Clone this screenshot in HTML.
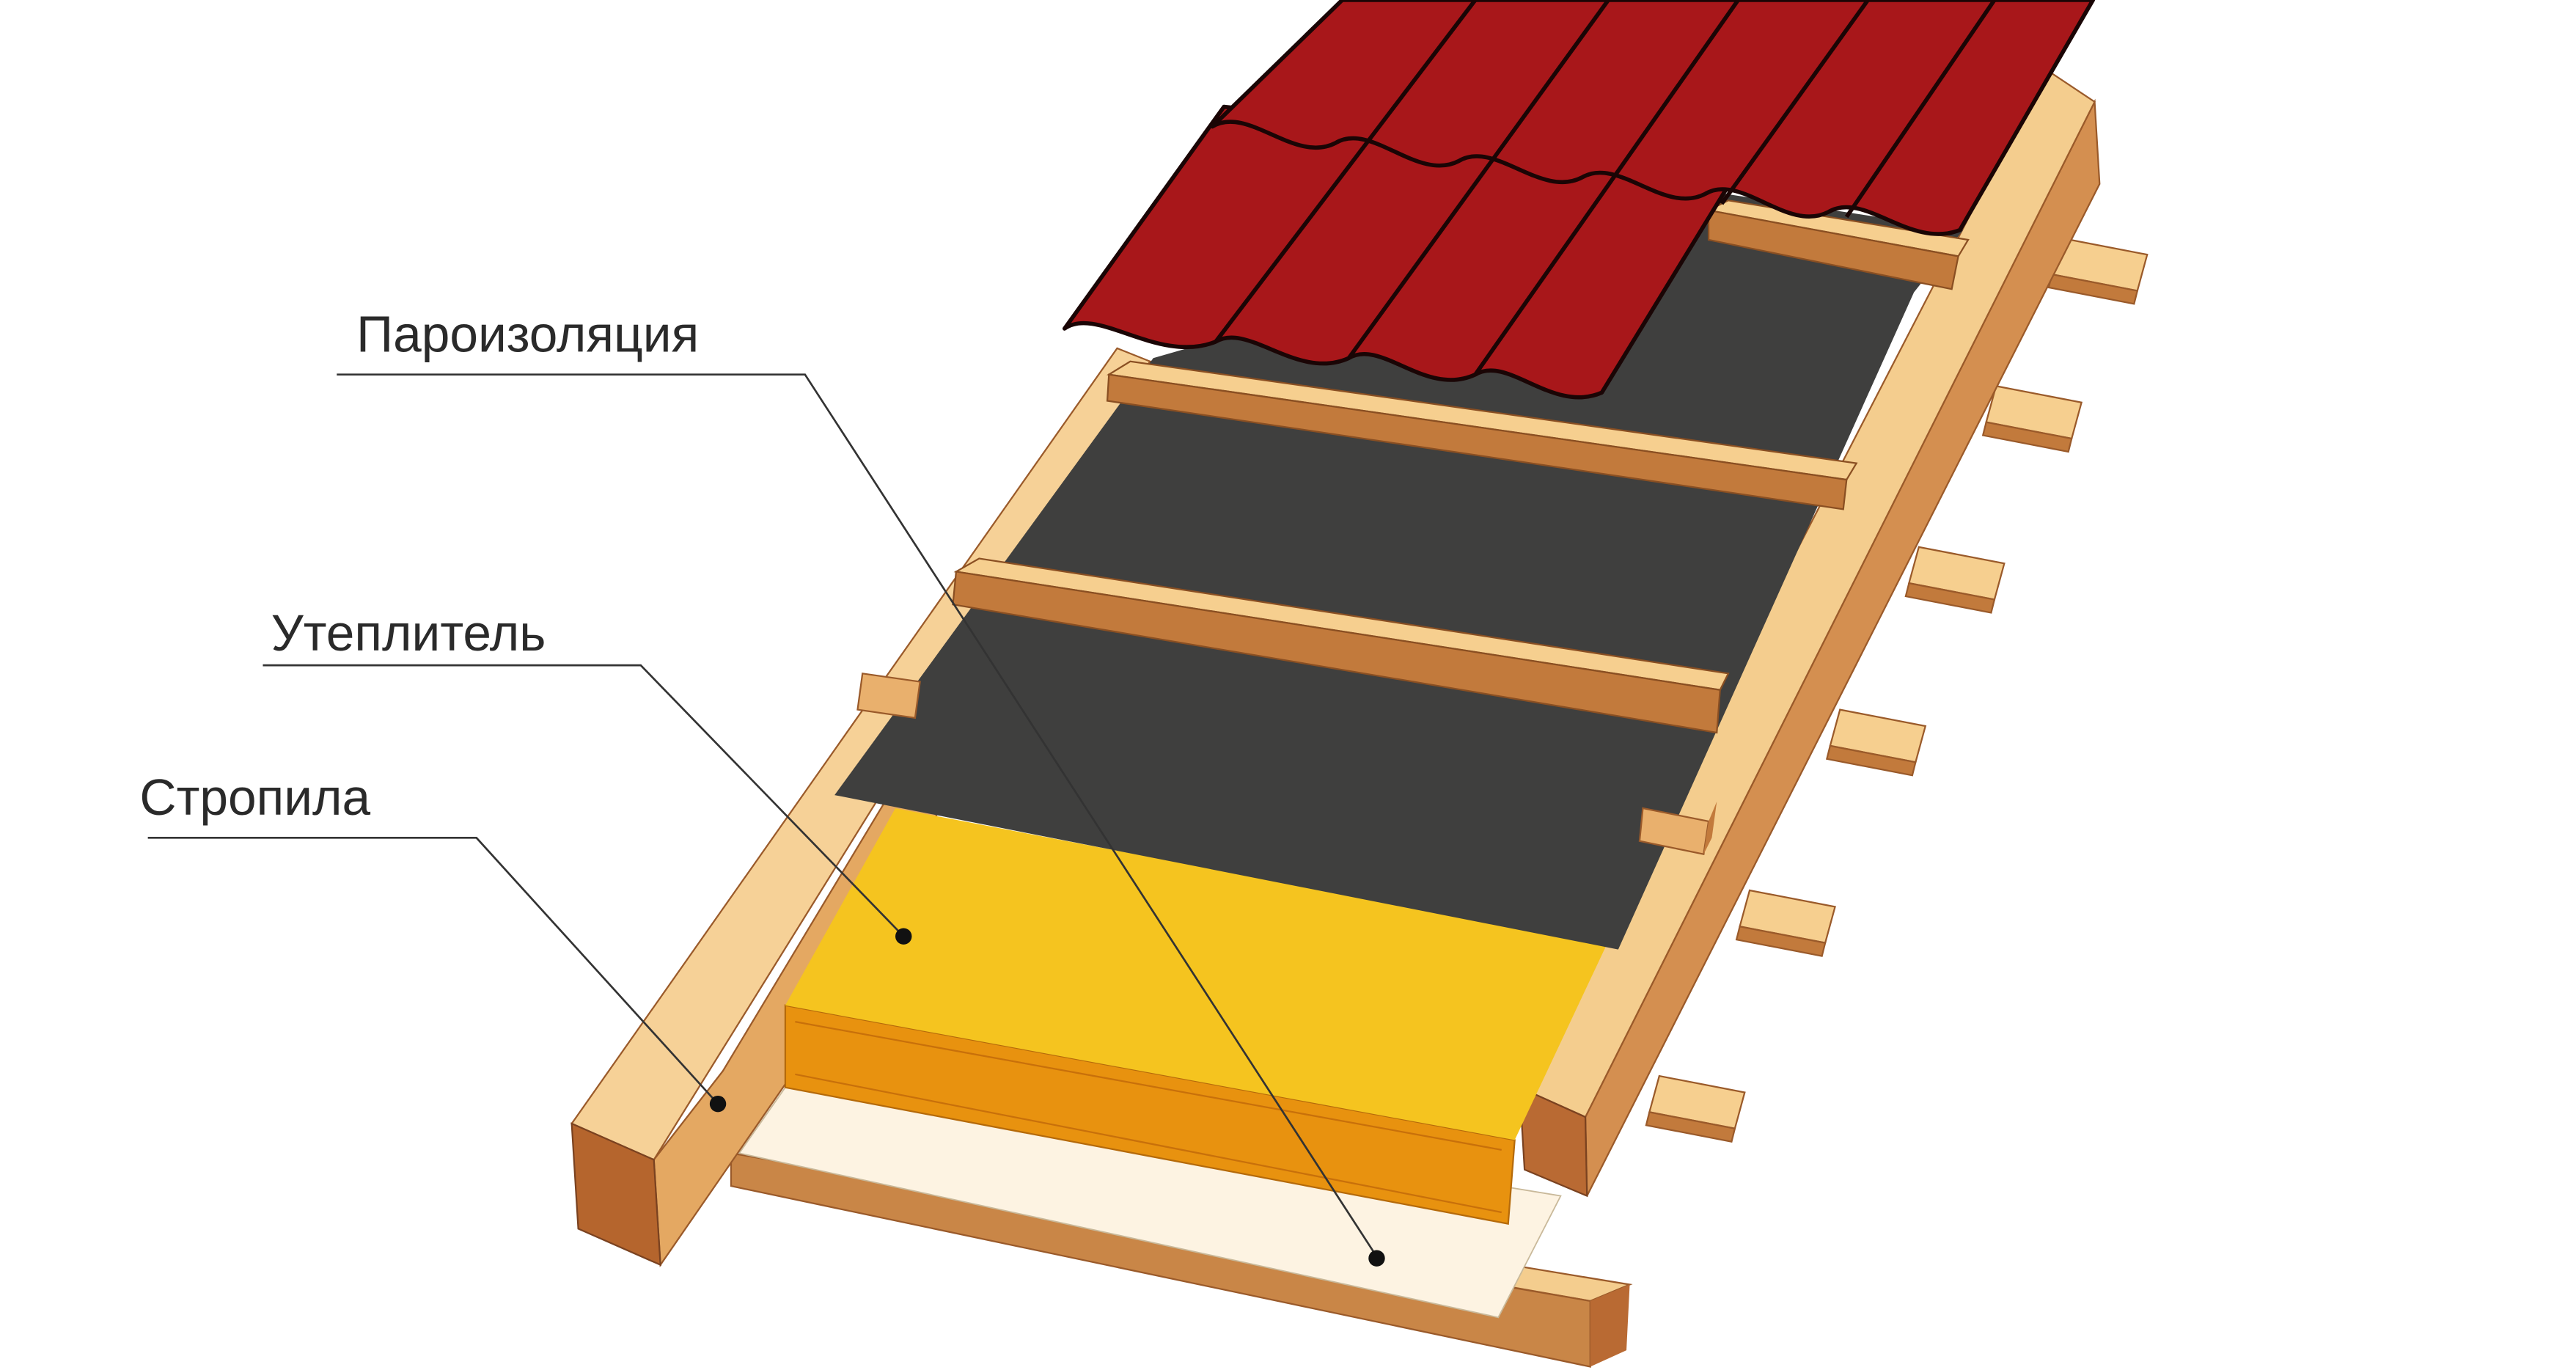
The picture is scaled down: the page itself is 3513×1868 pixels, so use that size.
<!DOCTYPE html>
<html><head><meta charset="utf-8"><style>html,body{margin:0;padding:0;background:#fff}svg{display:block}</style></head>
<body>
<svg width="3513" height="1868" viewBox="0 0 1568 834" preserveAspectRatio="none" xmlns="http://www.w3.org/2000/svg">
<defs>
<g id="pb" stroke="#9a5a2a" stroke-width="1"><polygon points="0,0 52,10 46,32 -6,22" fill="#f6cf8f"/><polygon points="-6,22 46,32 44,40 -8,30" fill="#c27a3c"/></g>
</defs>
<rect width="1568" height="834" fill="#fff"/>
<use href="#pb" x="1255" y="145"/><use href="#pb" x="1215" y="235"/><use href="#pb" x="1168" y="333"/><use href="#pb" x="1120" y="432"/><use href="#pb" x="1065" y="542"/><use href="#pb" x="1010" y="655"/>
<!-- right rafter -->
<polygon points="965,680 1275,62 1278,112 966,728" fill="#d48f50" stroke="#9a5a2a"/>
<polygon points="925,662 965,680 1275,62 1245,42" fill="#f4cd8e" stroke="#9a5a2a"/>
<polygon points="925,662 965,680 966,728 928,712" fill="#b96a33" stroke="#7a4220"/>
<!-- bottom board -->
<polygon points="445,700 470,696 992,782 968,792" fill="#f4cd8e" stroke="#9a5a2a"/>
<polygon points="445,702 968,792 968,832 445,722" fill="#c98647" stroke="#9a5a2a"/>
<polygon points="968,792 992,782 990,822 968,832" fill="#b96a33"/>
<!-- left rafter -->
<polygon points="398,706 440,652 700,220 722,226 478,660 402,770" fill="#e4a862" stroke="#9a5a2a"/>
<polygon points="348,684 398,706 700,220 680,212" fill="#f6d197" stroke="#9a5a2a"/>
<polygon points="348,684 398,706 402,770 352,748" fill="#b5652d" stroke="#7a4220"/>
<!-- white sheet -->
<polygon points="450,702 485,652 950,728 912,802" fill="#fdf3e2" stroke="#c9b99a" stroke-width="0.8"/>
<!-- insulation -->
<polygon points="478,612 922,694 918,745 478,662" fill="#e8920f" stroke="#b56a0a"/>
<path d="M484,622 L914,700 M484,654 L914,738" stroke="#c8700a" stroke-width="1"/>
<polygon points="478,612 545,492 978,575 922,694" fill="#f5c41f"/>
<!-- membrane -->
<polygon points="508,484 985,578 1165,178 1195,140 1050,118 702,218" fill="#3f3f3e"/>
<!-- stubs -->
<polygon points="525,410 560,415 557,437 522,432" fill="#e9b06d" stroke="#9a5a2a"/>
<polygon points="1000,492 1040,500 1037,520 998,512" fill="#e9b06d" stroke="#9a5a2a"/>
<polygon points="1040,500 1045,488 1042,510 1037,520" fill="#c27a3c"/>
<!-- battens -->
<g stroke="#8a4f22" stroke-width="1">
<polygon points="675,228 688,220 1130,282 1124,292" fill="#f6cf8f"/>
<polygon points="675,228 1124,292 1122,310 674,244" fill="#c27a3c"/>
<polygon points="582,348 596,340 1052,410 1047,420" fill="#f6cf8f"/>
<polygon points="582,348 1047,420 1045,446 580,368" fill="#c27a3c"/>
<polygon points="1040,128 1052,122 1198,146 1192,156" fill="#f6cf8f"/>
<polygon points="1040,128 1192,156 1188,176 1040,146" fill="#c27a3c"/>
</g>
<!-- tiles: lower sheet -->
<path d="M648,200 C668,186 705,222 740,208 C760,196 790,232 821,218 C841,206 868,242 898,228 C918,216 945,252 975,239 L1060,100 L745,65 Z" fill="#a8171a" stroke="#1a0505" stroke-width="2.5" stroke-linejoin="round"/>
<!-- upper sheet -->
<path d="M738,77 C760,64 788,100 813,87 C835,74 863,111 888,98 C910,85 938,121 963,108 C985,95 1013,131 1038,118 C1060,105 1088,142 1113,129 C1135,116 1163,152 1193,140 L1274,0 L817,0 Z" fill="#a8171a" stroke="#1a0505" stroke-width="2.5" stroke-linejoin="round"/>
<g stroke="#1a0505" stroke-width="2.5">
<line x1="898" y1="0" x2="740" y2="208"/>
<line x1="979" y1="0" x2="821" y2="218"/>
<line x1="1058" y1="0" x2="898" y2="228"/>
<line x1="1137" y1="0" x2="1048" y2="124"/>
<line x1="1214" y1="0" x2="1124" y2="132"/>
</g>
<!-- labels -->
<g font-family="'Liberation Sans','DejaVu Sans',sans-serif" font-size="31" fill="#2a2a2a">
<text x="217" y="214">Пароизоляция</text>
<text x="165" y="396">Утеплитель</text>
<text x="85" y="496">Стропила</text>
</g>
<g stroke="#333" stroke-width="1.2" fill="none">
<polyline points="205,228 490,228 838,765"/>
<polyline points="160,405 390,405 550,570"/>
<polyline points="90,510 290,510 437,672"/>
</g>
<g fill="#111"><circle cx="838" cy="766" r="5"/><circle cx="550" cy="570" r="5"/><circle cx="437" cy="672" r="5"/></g>
</svg>
</body></html>
